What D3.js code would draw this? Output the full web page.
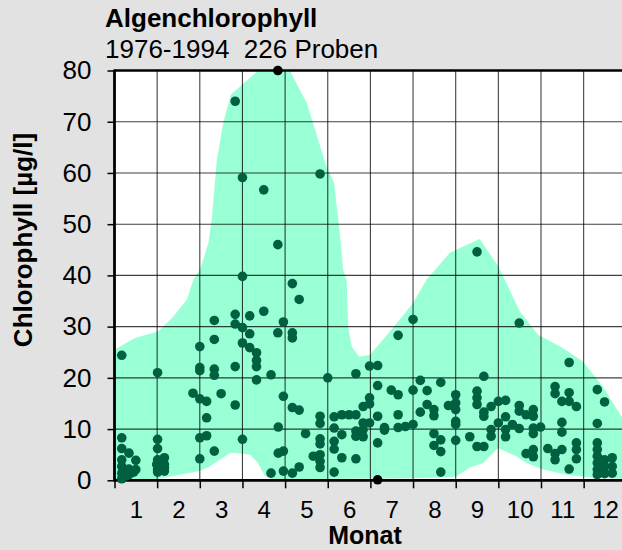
<!DOCTYPE html>
<html>
<head>
<meta charset="utf-8">
<script src="https://cdn.jsdelivr.net/npm/d3@7"></script>
<style>
  body { margin: 0; background: #e2e2e2; }
  svg { display: block; font-family: "Liberation Sans", Arial, sans-serif; }
</style>
</head>
<body>
<svg width="622" height="550"></svg>
<script>
// month tick labels and value ticks
var monthLabels = ["1", "2", "3", "4", "5", "6", "7", "8", "9", "10", "11", "12"];
var valueTicks = [0, 10, 20, 30, 40, 50, 60, 70, 80];

// envelope (min / max band), month position -> value
var upperMonth = [0, 0.48, 1.03, 1.38, 1.70, 1.85, 2.0, 2.2, 2.28, 2.40, 2.55, 2.73, 3.37, 4.11, 4.51, 4.97, 5.15, 5.29, 5.36, 5.44, 5.48, 5.56, 5.74, 5.99, 6.30, 6.69, 7.0, 7.32, 7.86, 8.56, 9.0, 9.50, 9.93, 10.52, 10.98, 11.45, 11.88, 12];
var upperValue = [25.5, 27.8, 29.1, 32, 35.3, 39.2, 41, 46.3, 50.9, 62.6, 69.8, 75.3, 80, 80, 73.6, 61.3, 58, 47.6, 41.1, 39.2, 30, 26.1, 24.1, 24.5, 27.5, 31.4, 34.6, 39.2, 44.4, 47.1, 41.8, 33.0, 28.4, 25.8, 23.2, 18.3, 12.5, 11];
var lowerMonth = [0, 1.02, 2.0, 2.19, 2.47, 2.7, 2.83, 3.18, 3.35, 3.53, 3.7, 7.0, 7.86, 8.02, 8.33, 8.64, 8.99, 9.42, 9.66, 10.05, 10.6, 11.22, 12];
var lowerValue = [0, 0.3, 1.8, 2.5, 4.0, 5.3, 5.4, 5.0, 3.5, 0.8, 0.2, 0.4, 0.6, 0.8, 2.5, 3.4, 6.3, 4.7, 3.4, 2.1, 1.1, 0.5, 0.3];

// samples: position in year (months) and chlorophyll
var sampleMonth = [
  0.17, 0.17, 0.17, 0.34, 0.50, 0.17, 0.17, 0.34, 0.50, 0.17, 0.29, 0.17, 0.34, 0.45,
  1.01, 1.01, 1.01, 1.01, 1.17, 0.99, 1.01, 1.17, 1.17, 1.09, 1.01, 1.17,
  1.84, 2.0, 2.0, 2.0, 2.0, 2.0, 2.0, 2.16, 2.16, 2.16, 2.34, 2.34, 2.34, 2.34, 2.34, 2.50,
  2.83, 2.83, 2.83, 2.83, 2.83, 3.0, 3.0, 3.0, 3.0, 3.0, 3.17, 3.17, 3.17,
  3.33, 3.33, 3.33, 3.33, 3.50, 3.50, 3.67, 3.67, 3.83, 3.83, 3.83, 3.84, 3.84, 3.96, 3.96, 3.96, 3.96,
  4.17, 4.17, 4.17, 4.17, 4.17, 4.33, 4.33, 4.33, 4.48, 4.66, 4.82, 4.82, 4.82, 4.82, 4.82, 4.82, 4.82, 4.82,
  5.0, 5.15, 5.15, 5.15, 5.15, 5.15, 5.33, 5.33, 5.33, 5.5, 5.66, 5.66, 5.66, 5.66, 5.66,
  5.83, 5.83, 5.83, 5.83, 5.98, 5.98, 5.98, 5.98,
  6.17, 6.17, 6.17, 6.17, 6.17, 6.33, 6.33, 6.49, 6.65, 6.65, 6.65, 6.65, 6.82, 7.0, 7.0, 7.0,
  7.17, 7.17, 7.33, 7.33, 7.49, 7.49, 7.49, 7.65, 7.65, 7.49, 7.65, 7.65, 7.83,
  8.0, 8.0, 8.0, 8.0, 8.0, 8.0, 8.33, 8.5, 8.5, 8.5, 8.5, 8.5, 8.66, 8.66, 8.66, 8.66,
  8.83, 8.83, 8.83, 9.0, 9.0, 9.17, 9.17, 9.17, 9.17, 9.33, 9.49, 9.49, 9.49, 9.49, 9.65, 9.65,
  9.82, 9.82, 9.82, 9.82, 9.82, 9.82, 9.99, 10.16, 10.33, 10.33, 10.33, 10.33,
  10.49, 10.49, 10.49, 10.49, 10.66, 10.66, 10.66, 10.66, 10.83, 10.83, 10.83, 10.83,
  11.32, 11.32, 11.32, 11.32, 11.32, 11.32, 11.32, 11.32, 11.49, 11.49, 11.49, 11.49, 11.67, 11.67, 11.67
];
var sampleValue = [
  24.4, 8.3, 6.2, 5.3, 3.9, 4.0, 2.7, 2.2, 2.1, 1.4, 0.9, 0.3, 1.1, 1.6,
  21.0, 8.0, 6.2, 4.0, 4.4, 3.1, 2.1, 3.1, 1.8, 2.6, 1.6, 2.5,
  17.0, 26.1, 22.0, 21.4, 15.9, 8.3, 4.2, 15.4, 12.2, 8.7, 31.2, 27.5, 21.7, 20.5, 5.7, 16.9,
  74.0, 32.4, 30.5, 22.2, 14.7, 59.1, 39.8, 29.8, 26.8, 8.0, 32.1, 28.6, 25.9,
  24.9, 23.4, 22.2, 19.6, 56.7, 33.0, 20.6, 1.4, 80, 46.0, 28.8, 10.4, 5.3, 30.9, 16.4, 5.7, 1.8,
  38.4, 28.8, 27.8, 14.2, 1.4, 35.3, 13.7, 2.6, 9.1, 4.7, 59.8, 12.5, 11.1, 8.1, 7.1, 5.0, 3.7, 2.5,
  20.0, 12.4, 10.2, 7.6, 6.1, 1.6, 12.8, 8.9, 4.4, 12.8, 20.8, 12.8, 9.6, 8.6, 4.2,
  14.4, 11.2, 9.9, 8.5, 22.3, 16.1, 14.9, 11.2,
  22.4, 18.5, 12.5, 7.3, 0.1, 10.3, 9.8, 17.6, 28.3, 16.7, 12.8, 10.3, 10.5, 31.4, 17.6, 10.9,
  19.5, 13.3, 17.5, 14.8, 13.8, 12.6, 9.1, 19.1, 7.9, 6.8, 5.6, 1.6, 14.6,
  16.7, 15.1, 13.8, 11.5, 10.9, 7.8, 8.5, 44.6, 17.4, 16.1, 14.8, 6.6, 20.3, 13.3, 12.5, 6.6,
  14.4, 9.9, 8.6, 15.4, 11.2, 15.6, 12.4, 9.9, 8.5, 10.9, 30.7, 14.6, 13.5, 10.1, 12.8, 5.2,
  13.8, 12.5, 10.2, 9.1, 6.0, 4.6, 10.4, 6.2, 18.3, 16.9, 5.2, 4.0,
  15.4, 11.3, 9.4, 6.0, 23.0, 17.1, 15.4, 2.2, 14.4, 7.3, 6.0, 4.2,
  17.7, 11.1, 7.3, 6.0, 4.7, 3.4, 2.1, 1.1, 15.3, 4.0, 2.7, 1.3, 4.4, 2.7, 1.4
];

var svg = d3.select("svg"),
    width = +svg.attr("width"),
    height = +svg.attr("height");

svg.append("rect")
    .attr("width", width)
    .attr("height", height)
    .attr("fill", "#e2e2e2");

var x = d3.scaleLinear().domain([0, 12]).range([114.5, 626.3]);
var y = d3.scaleLinear().domain([0, 80]).range([480.3, 70.5]);

svg.append("clipPath")
    .attr("id", "plotClip")
    .append("rect")
    .attr("x", x(0))
    .attr("y", y(80))
    .attr("width", x(12) - x(0))
    .attr("height", y(0) - y(80));

svg.append("rect")
    .attr("x", x(0))
    .attr("y", y(80))
    .attr("width", x(12) - x(0))
    .attr("height", y(0) - y(80))
    .attr("fill", "#fff");

// band between lowest and highest values
var band = upperMonth.map(function(m, i) { return [m, upperValue[i]]; })
    .concat(lowerMonth.map(function(m, i) { return [m, lowerValue[i]]; }).reverse());

svg.append("path")
    .attr("clip-path", "url(#plotClip)")
    .attr("d", d3.line()
        .x(function(d) { return x(d[0]); })
        .y(function(d) { return y(d[1]); })(band) + "Z")
    .attr("fill", "#99ffd5");

// grid
var grid = svg.append("g")
    .attr("stroke", "#000")
    .attr("stroke-opacity", 0.75)
    .attr("stroke-width", 1.1);

grid.selectAll(".hgrid")
    .data(valueTicks.slice(1, -1))
    .enter().append("line")
    .attr("x1", x(0))
    .attr("x2", x(12))
    .attr("y1", function(d) { return y(d); })
    .attr("y2", function(d) { return y(d); });

grid.selectAll(".vgrid")
    .data(d3.range(1, 13))
    .enter().append("line")
    .attr("x1", function(d) { return x(d); })
    .attr("x2", function(d) { return x(d); })
    .attr("y1", y(80))
    .attr("y2", y(0));

// y axis
var yAxis = svg.append("g")
    .attr("transform", "translate(" + x(0) + ",0)")
    .call(d3.axisLeft(y).tickValues(valueTicks).tickSize(7).tickPadding(16));

yAxis.select(".domain").remove();
yAxis.selectAll("line").attr("stroke", "#000").attr("stroke-width", 1.5);
yAxis.selectAll("text")
    .attr("fill", "#000")
    .style("font-size", "26px");

// x axis ticks on month boundaries, labels in between
var xTicks = svg.append("g")
    .attr("transform", "translate(0," + y(0) + ")")
    .call(d3.axisBottom(x).tickValues(d3.range(0, 13)).tickSize(8).tickFormat(""));

xTicks.select(".domain").remove();
xTicks.selectAll("line").attr("stroke", "#000").attr("stroke-width", 1.5);

var xLabels = svg.append("g")
    .attr("transform", "translate(0," + y(0) + ")")
    .call(d3.axisBottom(x)
        .tickValues(monthLabels.map(function(d, i) { return i + 0.5; }))
        .tickSize(0)
        .tickPadding(21)
        .tickFormat(function(d, i) { return monthLabels[i]; }));

xLabels.select(".domain").remove();
xLabels.selectAll("text")
    .attr("fill", "#000")
    .style("font-size", "24px");

// frame
svg.append("line")
    .attr("x1", x(0)).attr("x2", x(0))
    .attr("y1", y(80) - 1).attr("y2", y(0) + 1.3)
    .attr("stroke", "#000").attr("stroke-width", 2.8);
svg.append("line")
    .attr("x1", x(0)).attr("x2", x(12))
    .attr("y1", y(80)).attr("y2", y(80))
    .attr("stroke", "#000").attr("stroke-width", 2.4);
svg.append("line")
    .attr("x1", x(0)).attr("x2", x(12))
    .attr("y1", y(0)).attr("y2", y(0))
    .attr("stroke", "#000").attr("stroke-width", 2.8);

// samples
svg.append("g")
    .selectAll("circle")
    .data(sampleMonth)
    .enter().append("circle")
    .attr("cx", function(d) { return x(d); })
    .attr("cy", function(d, i) { return y(sampleValue[i]); })
    .attr("r", 4.8)
    .attr("fill", function(d, i) {
        var v = sampleValue[i];
        return (v >= 79.9 || v <= 0.15) ? "#000" : "#006040";
    });

// titles
svg.append("text")
    .attr("x", 105)
    .attr("y", 27)
    .style("font-size", "26px")
    .style("font-weight", "bold")
    .text("Algenchlorophyll");

svg.append("text")
    .attr("x", 105)
    .attr("y", 57.5)
    .style("font-size", "26px")
    .style("white-space", "pre")
    .text("1976-1994  226 Proben");

svg.append("text")
    .attr("transform", "translate(32,240) rotate(-90)")
    .attr("text-anchor", "middle")
    .style("font-size", "26px")
    .style("font-weight", "bold")
    .text("Chlorophyll [µg/l]");

svg.append("text")
    .attr("x", 365)
    .attr("y", 544)
    .attr("text-anchor", "middle")
    .style("font-size", "25px")
    .style("font-weight", "bold")
    .text("Monat");
</script>
</body>
</html>
